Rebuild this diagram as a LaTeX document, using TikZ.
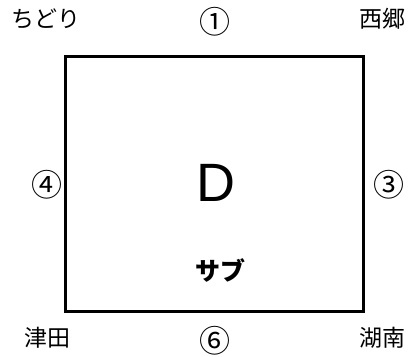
\documentclass[tikz,border=0pt]{standalone}
\usepackage{fontspec}
\setmainfont{Liberation Sans}
\newfontfamily\jp{Noto Sans CJK JP}
\begin{document}
\begin{tikzpicture}[x=1pt,y=-1pt,
  lbl/.style={font=\jp\fontsize{23}{26}\selectfont, inner sep=0pt, anchor=center},
  circ/.style={font=\jp\fontsize{31}{34}\selectfont, inner sep=0pt, anchor=center},
  box/.style={draw=black, line width=3pt}]
\useasboundingbox (0,0) rectangle (412,356);
\node[box, minimum width=297.5pt, minimum height=255pt, inner sep=0pt] (sq) at (214.5,184) {};
\node[lbl] (tl) at (46,19) {ちどり};
\node[circ] (tc) at (215,22) {①};
\node[lbl] (tr) at (382,19) {西郷};
\node[circ] (ml) at (47,185) {④};
\node[circ] (mr) at (389,185) {③};
\node[lbl] (bl) at (47,338) {津田};
\node[circ] (bc) at (215,341) {⑥};
\node[lbl] (br) at (382,338) {湖南};
\node[font=\fontsize{54}{60}\selectfont, inner sep=0pt] (d) at (216,183) {D};
\node[font=\jp\bfseries\fontsize{25}{28}\selectfont, inner sep=0pt] (sub) at (220,270) {サブ};
\end{tikzpicture}
\end{document}
